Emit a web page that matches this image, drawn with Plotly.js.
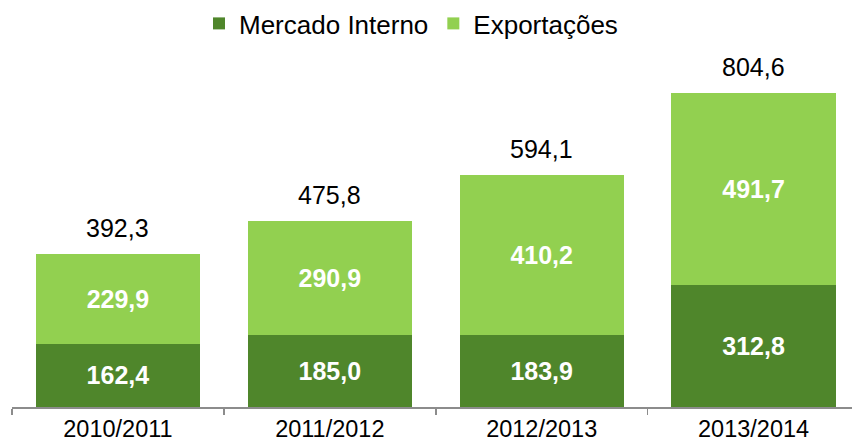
<!DOCTYPE html>
<html>
<head>
<meta charset="utf-8">
<script src="https://cdn.plot.ly/plotly-3.0.1.min.js"></script>
<style>html,body{margin:0;padding:0;background:#fff}#chart{width:852px;height:448px}</style>
</head>
<body>
<div id="chart"></div>
<script>
const categories = ['2010/2011', '2011/2012', '2012/2013', '2013/2014'];
const mercadoInterno = [162.4, 185.0, 183.9, 312.8];
const exportacoes = [229.9, 290.9, 410.2, 491.7];
const totals = [392.3, 475.8, 594.1, 804.6];

const fmt = v => v.toFixed(1).replace('.', ',');
const FONT = 'Arial, "Liberation Sans", sans-serif';
const DARK = '#4F862B';
const LIGHT = '#92D050';

const traces = [
  {
    type: 'bar', name: 'Mercado Interno', x: categories, y: mercadoInterno,
    marker: {color: DARK}, width: 0.775,
    text: mercadoInterno.map(fmt), textposition: 'inside', insidetextanchor: 'middle',
    textfont: {family: FONT, size: 25, color: '#ffffff', weight: 'bold'},
    constraintext: 'none', hoverinfo: 'skip'
  },
  {
    type: 'bar', name: 'Exportações', x: categories, y: exportacoes,
    marker: {color: LIGHT}, width: 0.775,
    text: exportacoes.map(fmt), textposition: 'inside', insidetextanchor: 'middle',
    textfont: {family: FONT, size: 25, color: '#ffffff', weight: 'bold'},
    constraintext: 'none', hoverinfo: 'skip'
  }
];

const annotations = totals.map((t, i) => ({
  x: categories[i], y: t, xref: 'x', yref: 'y', text: fmt(t), showarrow: false,
  yanchor: 'bottom', yshift: 10,
  font: {family: FONT, size: 25, color: '#000000'}
}));

const layout = {
  width: 852, height: 448,
  margin: {l: 11.5, r: 0, t: 50, b: 41, pad: 0},
  paper_bgcolor: '#ffffff', plot_bgcolor: '#ffffff',
  barmode: 'stack',
  showlegend: true,
  legend: {
    orientation: 'h', x: 0.475, xanchor: 'center', y: 1.0784, yanchor: 'middle',
    yref: 'paper', font: {family: FONT, size: 26, color: '#000000'},
    traceorder: 'normal', itemwidth: 30
  },
  xaxis: {
    type: 'category',
    range: [-0.5, 3.4646],
    tickson: 'boundaries', ticks: 'outside', ticklen: 6, tickwidth: 1.5, tickcolor: '#8c8c8c',
    showline: true, linecolor: '#8c8c8c', linewidth: 1.5,
    showgrid: false, zeroline: false, automargin: false,
    tickfont: {family: FONT, size: 23.5, color: '#000000'}
  },
  yaxis: {
    range: [0, 913], visible: false, showgrid: false, zeroline: false, fixedrange: true
  },
  annotations: annotations
};

Plotly.newPlot('chart', traces, layout, {displayModeBar: false, staticPlot: true});
</script>
</body>
</html>
